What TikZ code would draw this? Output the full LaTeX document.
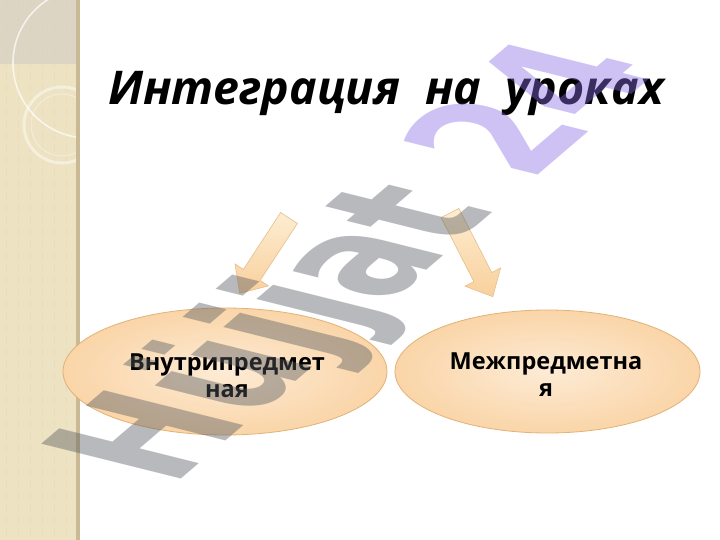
\documentclass[tikz,border=0pt]{standalone}
\usepackage{fontspec}
\setmainfont{Open Sans}
\newfontfamily\wmfont{DejaVu Sans}
\usetikzlibrary{shapes.geometric}
\definecolor{strip}{HTML}{EDE2C2}
\definecolor{striptop}{HTML}{DCD5C3}
\definecolor{stripedge}{HTML}{C9B995}
\definecolor{peachedge}{HTML}{FAD5A8}
\definecolor{peachmid}{HTML}{FDEBD5}
\definecolor{ellline}{HTML}{E2B277}
\definecolor{arrtop}{HTML}{FDEDD2}
\definecolor{arrbot}{HTML}{F9D09C}
\definecolor{wmgray}{HTML}{555A60}
\definecolor{wmpurple}{HTML}{8C6EE6}
\begin{document}
\begin{tikzpicture}[x=1pt,y=-1pt,
  oval/.style={ellipse, draw=ellline, line width=0.8pt, inner color=peachmid, outer color=peachedge, inner sep=0pt},
  blockarrow/.style={draw=ellline!85, line width=0.6pt, top color=arrtop, bottom color=arrbot},
  lbl/.style={font=\bfseries\fontsize{23.5}{26.5}\selectfont, align=center, anchor=base},
  ring/.style={draw=white, opacity=0.7, line width=1.6pt}]
\useasboundingbox (0,0) rectangle (720,540);
\fill[white] (0,0) rectangle (720,540);
% left decorative strip
\fill[strip] (0,0) rectangle (78,540);
\fill[striptop] (0,0) rectangle (78,64);
\foreach \gx in {6,18,30,42,54,66}
  \draw[strip!92!black, opacity=0.25, dash pattern=on 8pt off 4pt] (\gx,0) -- (\gx,540);
\begin{scope}
\clip (0,0) rectangle (78,540);
\draw[ring] (88,63) circle[radius=75];
\draw[white, opacity=0.45, line width=3pt] (62,125) circle[radius=38];
\draw[white, opacity=0.35, line width=1pt] (62,125) circle[radius=31];
\end{scope}
\fill[stripedge] (76,0) rectangle (80,540);
% title
\node[font=\bfseries\itshape\fontsize{46.5}{52}\selectfont, anchor=base] (title) at (386,105) {Интеграция\ \ на\ \ уроках};
% arrows
\begin{scope}[shift={(289,218)}, rotate=236.8]
\path[blockarrow] (0,-10) -- (68,-10) -- (68,-20) -- (90,0) -- (68,20) -- (68,10) -- (0,10) -- cycle;
\end{scope}
\begin{scope}[shift={(450,213)}, rotate=-62.9]
\path[blockarrow] (0,-10) -- (72,-10) -- (72,-20) -- (94,0) -- (72,20) -- (72,10) -- (0,10) -- cycle;
\end{scope}
% ellipses
\node[oval, minimum width=324pt, minimum height=127pt] (elL) at (225,371.5) {};
\node[oval, minimum width=305pt, minimum height=123pt] (elR) at (547.5,371.5) {};
\node[lbl] (tL) at (227,397) {Внутрипредмет\\ная};
\node[lbl] (tR) at (546,396) {Межпредметна\\я};
% watermark
\begin{scope}[shift={(172,487)}]
\node[anchor=base west, inner sep=0pt, transform shape, cm={0.958,0.818,-1.916,0.478,(0,0)}, text opacity=0.42,
  font=\wmfont\bfseries\fontsize{100}{100}\selectfont] (wm) {\textcolor{wmgray}{Hüjjat} \textcolor{wmpurple}{24}};
\end{scope}
\end{tikzpicture}
\end{document}
